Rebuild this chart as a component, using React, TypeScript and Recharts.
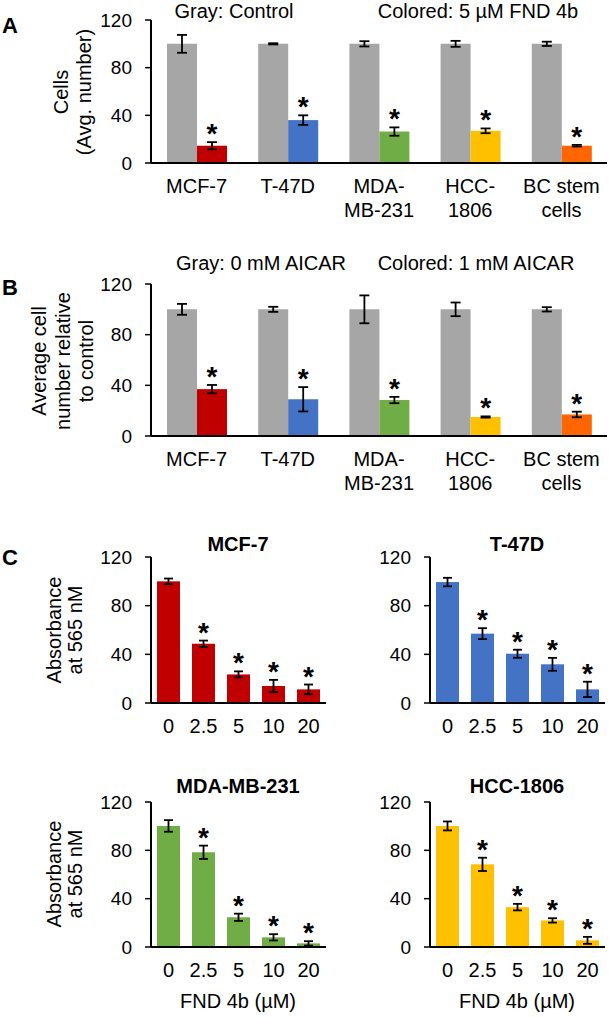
import { BarChart, Bar, XAxis, YAxis, ErrorBar } from 'recharts';

const FONT = "'Liberation Sans', Arial, sans-serif";
const GRAY = '#A6A6A6';
const LINE_COLORS = ['#C00000', '#4472C4', '#70AD47', '#FFC000', '#FF6600'];

// x categories (A, B)
const cellLines = ['MCF-7', 'T-47D', 'MDA-\nMB-231', 'HCC-\n1806', 'BC stem\ncells'];
const yTicks = [0, 40, 80, 120];

// panel A: control vs 5 uM FND 4b
const ctrlA = [100, 100, 100, 100, 100];
const ctrlAErr = [7.5, 0.5, 2.2, 2.5, 1.8];
const fndA = [14.5, 36, 26.4, 27, 14.5];
const fndAErr = [3, 4, 3.5, 2, 0.7];

// panel B: 0 mM vs 1 mM AICAR
const ctrlB = [100, 100, 100, 100, 100];
const ctrlBErr = [4.3, 2, 11, 5.4, 1.7];
const aicarB = [37, 29, 28.4, 15, 17];
const aicarBErr = [3.3, 9.6, 2.5, 0.5, 2.2];

// panel C: dose response
const doses = ['0', '2.5', '5', '10', '20'];
const mcf7C = [100, 48.7, 23.5, 14, 11.2];
const mcf7CErr = [2.3, 2.6, 2.5, 5, 4];
const t47dC = [99.4, 57, 40.5, 31.8, 11.2];
const t47dCErr = [3.5, 4.5, 3.3, 5.3, 6.3];
const mdaC = [100.2, 78.4, 24.6, 8, 3];
const mdaCErr = [4.8, 5.5, 3, 2.6, 1.8];
const hccC = [100.2, 68.4, 33, 22, 5.5];
const hccCErr = [3.7, 5.5, 2.7, 1.8, 2.9];

const pairRows = (ctrl: number[], ctrlErr: number[], trt: number[], trtErr: number[]) =>
  cellLines.map((name, i) => ({ name, i, ctrl: ctrl[i], ctrlErr: ctrlErr[i], trt: trt[i], trtErr: trtErr[i] }));

const doseRows = (vals: number[], errs: number[]) =>
  doses.map((name, i) => ({ name, i, val: vals[i], err: errs[i] }));

// bar with an asterisk sitting over its error bar
const starShape = (valKey: string, errKey: string, colorOf: (i: number) => string, starred: (i: number) => boolean) =>
  (p: any) => {
    const row = p.payload;
    const v = row[valKey];
    const k = v ? p.height / v : 0;
    const top = p.y - row[errKey] * k;
    return (
      <g>
        <rect x={p.x} y={p.y} width={p.width} height={p.height} fill={colorOf(row.i)} />
        {starred(row.i) && (
          <text x={p.x + p.width / 2} y={top + 1} textAnchor="middle" fontSize={28} fontWeight="bold" fontFamily={FONT} fill="#000">*</text>
        )}
      </g>
    );
  };

const CatTick = (props: any) => {
  const { x, y, payload, first, step, size } = props;
  const lines = String(payload.value).split('\n');
  return (
    <g>
      {lines.map((l, j) => (
        <text key={j} x={x} y={y + first + j * step} textAnchor="middle" fontSize={size} fontFamily={FONT} fill="#000">{l}</text>
      ))}
    </g>
  );
};

const axisLine = { stroke: '#000', strokeWidth: 2 };

function yAxis() {
  return (
    <YAxis
      domain={[0, 120]}
      ticks={yTicks}
      interval={0}
      width={151}
      axisLine={axisLine}
      tickLine={{ stroke: '#000', strokeWidth: 1.5 }}
      tickSize={6}
      tickMargin={13}
      tick={{ fill: '#000', fontSize: 19, fontFamily: FONT }}
    />
  );
}

function PairChart({ rows, top, height, margin }: any) {
  return (
    <div style={{ position: 'absolute', left: 0, top }}>
      <BarChart width={609} height={height} data={rows} margin={margin} barGap={0} barSize={30}>
        <XAxis dataKey="name" interval={0} height={50} axisLine={axisLine} tickLine={false} tickSize={0} tickMargin={0}
          tick={<CatTick first={30} step={24} size={20} />} />
        {yAxis()}
        <Bar dataKey="ctrl" fill={GRAY} isAnimationActive={false}>
          <ErrorBar dataKey="ctrlErr" width={5} stroke="#000" strokeWidth={1.8} direction="y" />
        </Bar>
        <Bar dataKey="trt" isAnimationActive={false}
          shape={starShape('trt', 'trtErr', (i) => LINE_COLORS[i], () => true)}>
          <ErrorBar dataKey="trtErr" width={5} stroke="#000" strokeWidth={1.8} direction="y" />
        </Bar>
      </BarChart>
    </div>
  );
}

function DoseChart({ rows, left, top, color, bottom }: any) {
  return (
    <div style={{ position: 'absolute', left, top }}>
      <BarChart width={330} height={250} data={rows} margin={{ top: 57, right: 4, left: 0, bottom }} barSize={23}>
        <XAxis dataKey="name" interval={0} height={40} axisLine={axisLine} tickLine={false} tickSize={0} tickMargin={0}
          tick={<CatTick first={30} step={24} size={20} />} />
        {yAxis()}
        <Bar dataKey="val" isAnimationActive={false}
          shape={starShape('val', 'err', () => color, (i) => i > 0)}>
          <ErrorBar dataKey="err" width={4.5} stroke="#000" strokeWidth={1.8} direction="y" />
        </Bar>
      </BarChart>
    </div>
  );
}

const RotLabel = ({ x, y, lines, step }: any) => (
  <g>
    {lines.map((l: string, j: number) => (
      <text key={j} x={x + j * step} y={y} transform={`rotate(-90, ${x + j * step}, ${y})`} textAnchor="middle" fontSize={20} fontFamily={FONT} fill="#000">{l}</text>
    ))}
  </g>
);

export default function App() {
  const txt = { fontFamily: FONT, fill: '#000' } as const;
  return (
    <div style={{ position: 'absolute', left: 0, top: 0, width: 609, height: 1018, background: '#fff', overflow: 'hidden' }}>
      <PairChart rows={pairRows(ctrlA, ctrlAErr, fndA, fndAErr)} top={0} height={230}
        margin={{ top: 20, right: 2, left: 0, bottom: 17 }} />
      <PairChart rows={pairRows(ctrlB, ctrlBErr, aicarB, aicarBErr)} top={240} height={260}
        margin={{ top: 44, right: 2, left: 0, bottom: 14 }} />
      <DoseChart rows={doseRows(mcf7C, mcf7CErr)} left={0} top={500} color={LINE_COLORS[0]} bottom={7} />
      <DoseChart rows={doseRows(t47dC, t47dCErr)} left={279} top={500} color={LINE_COLORS[1]} bottom={7} />
      <DoseChart rows={doseRows(mdaC, mdaCErr)} left={0} top={745} color={LINE_COLORS[2]} bottom={8} />
      <DoseChart rows={doseRows(hccC, hccCErr)} left={279} top={745} color={LINE_COLORS[3]} bottom={8} />

      <svg width={609} height={1018} style={{ position: 'absolute', left: 0, top: 0, pointerEvents: 'none' }}>
        {/* panel letters */}
        <text x={2} y={33} fontSize={22} fontWeight="bold" {...txt}>A</text>
        <text x={2} y={295} fontSize={22} fontWeight="bold" {...txt}>B</text>
        <text x={2} y={565} fontSize={22} fontWeight="bold" {...txt}>C</text>

        {/* headers */}
        <text x={234} y={18} textAnchor="middle" fontSize={20} {...txt}>Gray: Control</text>
        <text x={478} y={18} textAnchor="middle" fontSize={20} {...txt}>Colored: 5 µM FND 4b</text>
        <text x={261} y={270} textAnchor="middle" fontSize={20} {...txt}>Gray: 0 mM AICAR</text>
        <text x={476} y={270} textAnchor="middle" fontSize={20} {...txt}>Colored: 1 mM AICAR</text>

        {/* y labels */}
        <RotLabel x={68} y={92} step={23} lines={['Cells', '(Avg. number)']} />
        <RotLabel x={46} y={361} step={23.5} lines={['Average cell', 'number relative', 'to control']} />
        <RotLabel x={61} y={630} step={20.5} lines={['Absorbance', 'at 565 nM']} />
        <RotLabel x={61} y={874} step={20.5} lines={['Absorbance', 'at 565 nM']} />

        {/* panel C titles */}
        <text x={238} y={551} textAnchor="middle" fontSize={20} fontWeight="bold" {...txt}>MCF-7</text>
        <text x={517} y={551} textAnchor="middle" fontSize={20} fontWeight="bold" {...txt}>T-47D</text>
        <text x={238} y={793} textAnchor="middle" fontSize={20} fontWeight="bold" {...txt}>MDA-MB-231</text>
        <text x={517} y={793} textAnchor="middle" fontSize={20} fontWeight="bold" {...txt}>HCC-1806</text>

        <text x={238} y={1008} textAnchor="middle" fontSize={20} {...txt}>FND 4b (µM)</text>
        <text x={517} y={1008} textAnchor="middle" fontSize={20} {...txt}>FND 4b (µM)</text>
      </svg>
    </div>
  );
}
